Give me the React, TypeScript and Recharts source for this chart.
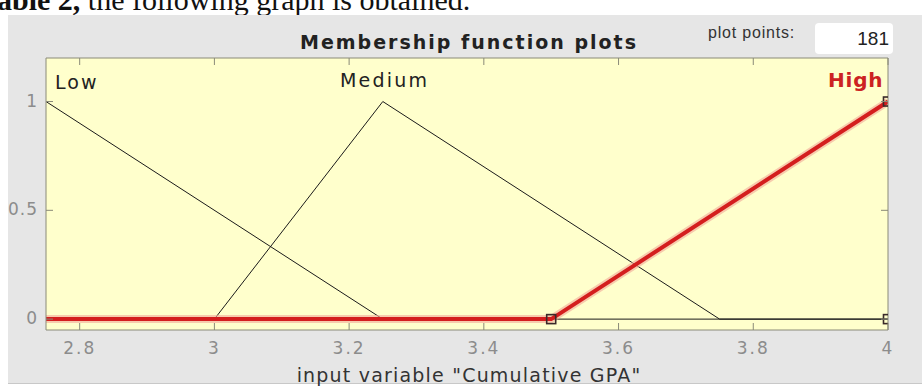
import React from "react";
import { ComposedChart, Line, XAxis, YAxis, CartesianGrid, Scatter } from "recharts";

const lowX = [2.75, 3.25, 4];
const lowY = [1, 0, 0];
const mediumX = [2.75, 3, 3.25, 3.75, 4];
const mediumY = [0, 0, 1, 0, 0];
const highX = [2.75, 3.5, 4];
const highY = [0, 0, 1];
const markerX = [3.5, 4, 4];
const markerY = [0, 1, 0];
const xTicks = [2.8, 3, 3.2, 3.4, 3.6, 3.8, 4];
const yTicks = [0, 0.5, 1];
const xDomain = [2.75, 4];
const yDomain = [-0.05, 1.2];
const mfNames = ["Low", "Medium", "High"];
const plotPoints = "181";

const toRows = (xs: number[], ys: number[]) => xs.map((x, i) => ({ x, y: ys[i] }));
const lowData = toRows(lowX, lowY);
const mediumData = toRows(mediumX, mediumY);
const highData = toRows(highX, highY);
const markerData = toRows(markerX, markerY);

const BORDER = "#8a8a78";
const TICKTXT = "#8c8c8c";
const FONT = "'DejaVu Sans', sans-serif";

const BottomTick = (p: any) => (
  <g>
    <line x1={p.x} x2={p.x} y1={p.y} y2={p.y - 7} stroke={BORDER} strokeWidth={1} />
    <text x={p.x} y={p.y + 19} textAnchor="middle" dominantBaseline="middle" fill={TICKTXT}
      style={{ fontFamily: FONT, fontSize: 17, letterSpacing: 2 }}>
      {String(p.payload.value)}
    </text>
  </g>
);
const TopTick = (p: any) => (
  <line x1={p.x} x2={p.x} y1={p.y} y2={p.y + 7} stroke={BORDER} strokeWidth={1} />
);
const LeftTick = (p: any) => (
  <g>
    <line x1={p.x} x2={p.x + 7} y1={p.y} y2={p.y} stroke={BORDER} strokeWidth={1} />
    <text x={p.x - 8} y={p.y} textAnchor="end" dominantBaseline="middle" fill={TICKTXT}
      style={{ fontFamily: FONT, fontSize: 17, letterSpacing: 1 }}>
      {String(p.payload.value)}
    </text>
  </g>
);
const RightTick = (p: any) => (
  <line x1={p.x} x2={p.x - 7} y1={p.y} y2={p.y} stroke={BORDER} strokeWidth={1} />
);
const SquareMarker = (p: any) => (
  <rect x={p.cx - 4.5} y={p.cy - 4.5} width={9} height={9} fill="none" stroke="#3a2a2a" strokeWidth={1.6} />
);

const abs = (o: React.CSSProperties): React.CSSProperties => ({ position: "absolute", whiteSpace: "nowrap", ...o });

export default function App() {
  return (
    <div style={{ position: "absolute", left: 0, top: 0, width: 922, height: 386, background: "#ffffff", overflow: "hidden" }}>
      <div style={abs({ left: -3, top: -15, fontFamily: "'Liberation Serif', serif", fontSize: 30, lineHeight: "30px", color: "#111" })}>
        <b>able 2,</b> the following graph is obtained.
      </div>
      <div style={abs({ left: 8, top: 15, width: 914, height: 368, background: "#e6e6e6", borderBottom: "1px solid #c8c8c8" })} />
      <div style={abs({ left: 0, top: 31, width: 938, textAlign: "center", fontFamily: FONT, fontWeight: "bold", fontSize: 19, lineHeight: "22px", letterSpacing: 2, color: "#222" })}>
        Membership function plots
      </div>
      <div style={abs({ left: 708, top: 25, fontFamily: "'Liberation Sans', sans-serif", fontSize: 16, lineHeight: "16px", letterSpacing: 0.8, color: "#333" })}>
        plot points:
      </div>
      <div style={abs({ left: 815, top: 23, width: 78, height: 31, background: "#ffffff", borderRadius: 4, boxSizing: "border-box", paddingRight: 4, textAlign: "right", fontFamily: "'Liberation Sans', sans-serif", fontSize: 19, lineHeight: "31px", color: "#222" })}>
        {plotPoints}
      </div>
      <div style={abs({ left: 0, top: 0 })}>
        <ComposedChart width={922} height={386} margin={{ left: 6, right: 24, top: 48, bottom: 26 }}>
          <CartesianGrid fill="#ffffcc" horizontal={false} vertical={false} />
          <XAxis xAxisId="0" dataKey="x" type="number" domain={xDomain} ticks={xTicks} height={30}
            axisLine={{ stroke: BORDER }} tickLine={false} tickSize={0} tickMargin={0} tick={BottomTick} allowDataOverflow />
          <XAxis xAxisId="top" orientation="top" dataKey="x" type="number" domain={xDomain} ticks={xTicks} height={10}
            axisLine={{ stroke: BORDER }} tickLine={false} tickSize={0} tickMargin={0} tick={TopTick} allowDataOverflow />
          <YAxis yAxisId="0" dataKey="y" type="number" domain={yDomain} ticks={yTicks} width={40}
            axisLine={{ stroke: BORDER }} tickLine={false} tickSize={0} tickMargin={0} tick={LeftTick} allowDataOverflow />
          <YAxis yAxisId="right" orientation="right" dataKey="y" type="number" domain={yDomain} ticks={yTicks} width={10}
            axisLine={{ stroke: BORDER }} tickLine={false} tickSize={0} tickMargin={0} tick={RightTick} allowDataOverflow />
          <Line data={lowData} dataKey="y" type="linear" stroke="#1a1a1a" strokeWidth={1} dot={false} isAnimationActive={false} />
          <Line data={mediumData} dataKey="y" type="linear" stroke="#1a1a1a" strokeWidth={1} dot={false} isAnimationActive={false} />
          <Line data={highData} dataKey="y" type="linear" stroke="#f2a898" strokeOpacity={0.6} strokeWidth={8} dot={false} isAnimationActive={false} />
          <Line data={highData} dataKey="y" type="linear" stroke="#d41e1e" strokeWidth={4} dot={false} isAnimationActive={false} />
          <Scatter data={markerData} dataKey="y" shape={SquareMarker} isAnimationActive={false} />
        </ComposedChart>
      </div>
      <div style={abs({ left: 55, top: 71, fontFamily: FONT, fontSize: 19, lineHeight: "22px", letterSpacing: 2, color: "#222" })}>
        {mfNames[0]}
      </div>
      <div style={abs({ left: 340, top: 69, fontFamily: FONT, fontSize: 19, lineHeight: "22px", letterSpacing: 2.2, color: "#222" })}>
        {mfNames[1]}
      </div>
      <div style={abs({ left: 828, top: 69, fontFamily: FONT, fontWeight: "bold", fontSize: 20, lineHeight: "22px", letterSpacing: 0.8, color: "#cc2222" })}>
        {mfNames[2]}
      </div>
      <div style={abs({ left: 0, top: 364, width: 938, textAlign: "center", fontFamily: FONT, fontSize: 19, lineHeight: "22px", letterSpacing: 1.2, color: "#333" })}>
        input variable "Cumulative GPA"
      </div>
    </div>
  );
}
